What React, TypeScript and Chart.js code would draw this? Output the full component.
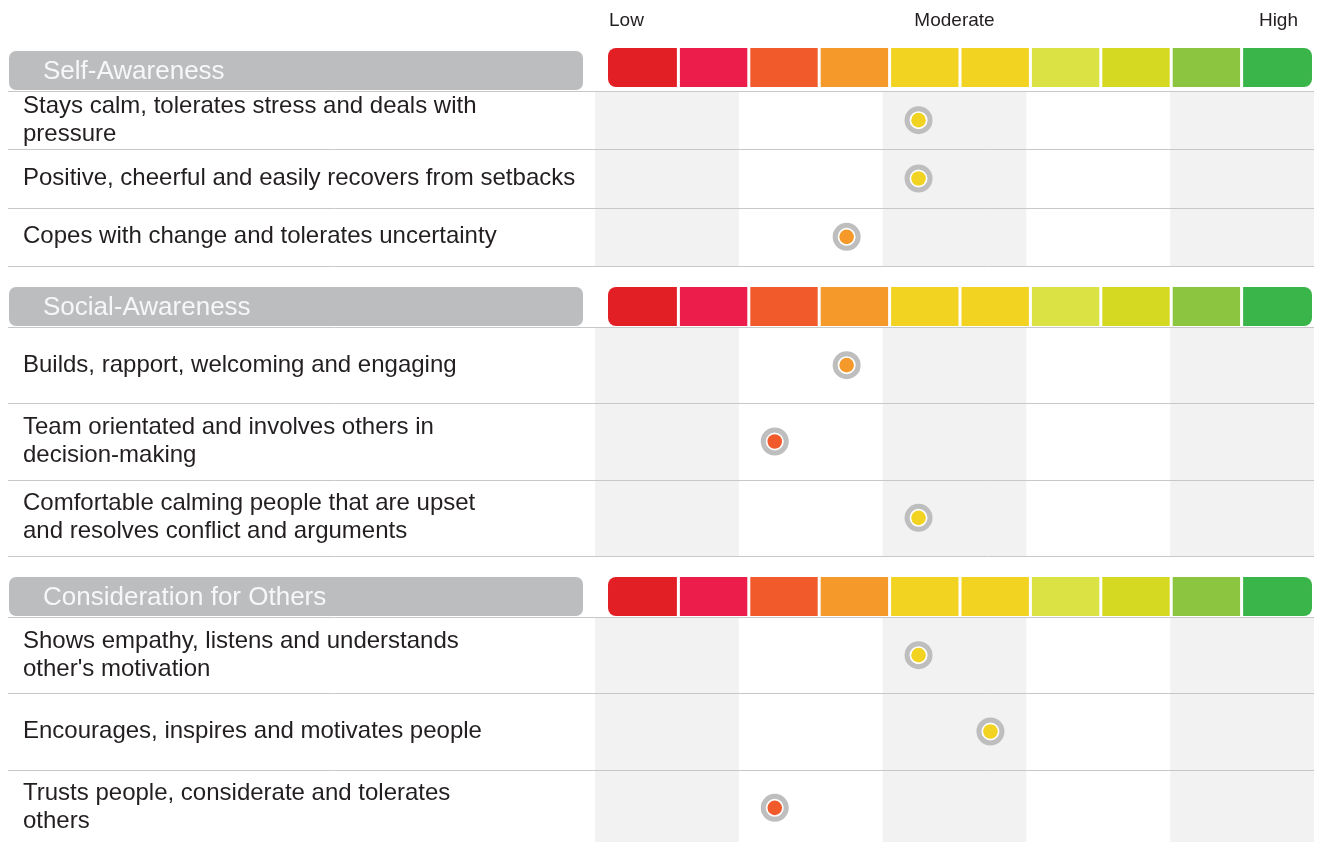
import React, { useEffect, useRef } from 'react';
import { Chart, registerables } from 'chart.js';

Chart.register(...registerables);

const FONT = '"Liberation Sans", Arial, Helvetica, sans-serif';

// ---- data ----
const scaleLabels = ['Low', 'Moderate', 'High'];
const scaleLabelValues = [0, 5, 10];
const segmentColors = [
  '#e31f26', '#ec1c4b', '#f15a2b', '#f4992a', '#f2d321',
  '#f2d321', '#dae343', '#d6d922', '#8cc540', '#3ab54a',
];

const sectionTitles = ['Self-Awareness', 'Social-Awareness', 'Consideration for Others'];

const selfAwarenessItems = [
  ['Stays calm, tolerates stress and deals with', 'pressure'],
  ['Positive, cheerful and easily recovers from setbacks'],
  ['Copes with change and tolerates uncertainty'],
];
const selfAwarenessScores = [4.5, 4.5, 3.5];

const socialAwarenessItems = [
  ['Builds, rapport, welcoming and engaging'],
  ['Team orientated and involves others in', 'decision-making'],
  ['Comfortable calming people that are upset', 'and resolves conflict and arguments'],
];
const socialAwarenessScores = [3.5, 2.5, 4.5];

const considerationItems = [
  ['Shows empathy, listens and understands', "other's motivation"],
  ['Encourages, inspires and motivates people'],
  ['Trusts people, considerate and tolerates', 'others'],
];
const considerationScores = [4.5, 5.5, 2.5];

// ---- drawing helpers ----
function roundRectPath(ctx: CanvasRenderingContext2D, x: number, y: number, w: number, h: number, r: number[]) {
  const [tl, tr, br, bl] = r;
  ctx.beginPath();
  ctx.moveTo(x + tl, y);
  ctx.lineTo(x + w - tr, y);
  if (tr) ctx.arcTo(x + w, y, x + w, y + tr, tr); else ctx.lineTo(x + w, y);
  ctx.lineTo(x + w, y + h - br);
  if (br) ctx.arcTo(x + w, y + h, x + w - br, y + h, br); else ctx.lineTo(x + w, y + h);
  ctx.lineTo(x + bl, y + h);
  if (bl) ctx.arcTo(x, y + h, x, y + h - bl, bl); else ctx.lineTo(x, y + h);
  ctx.lineTo(x, y + tl);
  if (tl) ctx.arcTo(x, y, x + tl, y, tl); else ctx.lineTo(x, y);
  ctx.closePath();
}

const sectionPlugin = {
  id: 'sectionDecor',
  beforeDatasetsDraw(chart: any, _args: any, opts: any) {
    const { ctx, chartArea } = chart;
    const x = chart.scales.x;
    const y = chart.scales.y;
    ctx.save();

    // alternating column bands
    ctx.fillStyle = '#f2f2f2';
    for (let v = 0; v < 10; v += 4) {
      const l = x.getPixelForValue(v);
      const r = x.getPixelForValue(v + 2);
      ctx.fillRect(l, chartArea.top, r - l, chartArea.bottom - chartArea.top);
    }

    // row separators
    const n = y.getLabels().length;
    const bounds = [chartArea.top];
    for (let i = 0; i < n - 1; i++) {
      bounds.push((y.getPixelForValue(i) + y.getPixelForValue(i + 1)) / 2);
    }
    bounds.push(chartArea.bottom);
    ctx.strokeStyle = '#c8c8c8';
    ctx.lineWidth = 1;
    bounds.forEach((b) => {
      const yy = Math.round(b) + 0.5;
      ctx.beginPath();
      ctx.moveTo(8, yy);
      ctx.lineTo(chartArea.right, yy);
      ctx.stroke();
    });

    // header bar
    const hTop = chartArea.top - 40;
    const hH = 39;
    ctx.fillStyle = '#bcbdbf';
    roundRectPath(ctx, 9, hTop, 574, hH, [7, 7, 7, 7]);
    ctx.fill();
    ctx.fillStyle = '#f7f7f7';
    ctx.font = `26px ${FONT}`;
    ctx.textAlign = 'left';
    ctx.textBaseline = 'alphabetic';
    ctx.fillText(opts.title, 43, hTop + 28);

    // colour scale segments
    const sTop = hTop + (opts.segShift || 0);
    const sL = x.getPixelForValue(0) + 13;
    const sR = x.getPixelForValue(10) - 2;
    const w = (sR - sL) / segmentColors.length;
    segmentColors.forEach((c, i) => {
      const left = sL + i * w + (i > 0 ? 1.5 : 0);
      const right = sL + (i + 1) * w - (i < segmentColors.length - 1 ? 1.5 : 0);
      const rad = i === 0 ? [8, 0, 0, 8] : i === segmentColors.length - 1 ? [0, 8, 8, 0] : [0, 0, 0, 0];
      ctx.fillStyle = c;
      roundRectPath(ctx, left, sTop, right - left, hH, rad);
      ctx.fill();
    });

    // Low / Moderate / High labels
    if (opts.showScale) {
      ctx.fillStyle = '#231f20';
      ctx.font = `19px ${FONT}`;
      ctx.textBaseline = 'alphabetic';
      scaleLabels.forEach((t, i) => {
        const v = scaleLabelValues[i];
        const px = x.getPixelForValue(v);
        if (i === 0) { ctx.textAlign = 'left'; ctx.fillText(t, px + 14, 26); }
        else if (i === scaleLabels.length - 1) { ctx.textAlign = 'right'; ctx.fillText(t, px - 16, 26); }
        else { ctx.textAlign = 'center'; ctx.fillText(t, px, 26); }
      });
    }
    ctx.restore();
  },
};

type SectionProps = {
  title: string;
  items: string[][];
  scores: number[];
  height: number;
  padTop: number;
  segShift: number;
  showScale: boolean;
};

function SectionChart({ title, items, scores, height, padTop, segShift, showScale }: SectionProps) {
  const ref = useRef<HTMLCanvasElement>(null);
  useEffect(() => {
    const keys = items.map((l) => l.join(' '));
    const corePoints = scores.map((s, i) => ({ x: s, y: keys[i] }));
    const ringPoints = scores.map((s, i) => ({ x: s, y: keys[i] }));
    const chart = new Chart(ref.current as HTMLCanvasElement, {
      type: 'scatter',
      data: {
        datasets: [
          {
            // coloured centre (drawn on top)
            data: corePoints,
            pointRadius: 7.3,
            pointHoverRadius: 7.3,
            pointBorderWidth: 0,
            pointHoverBorderWidth: 0,
            pointBackgroundColor: scores.map((s) => segmentColors[Math.floor(s)]),
          },
          {
            // grey ring with white gap
            data: ringPoints,
            pointRadius: 11.5,
            pointHoverRadius: 11.5,
            pointBorderWidth: 5,
            pointHoverBorderWidth: 5,
            pointBorderColor: '#bebebe',
            pointBackgroundColor: '#ffffff',
          },
        ],
      } as any,
      options: {
        responsive: false,
        animation: false,
        events: [],
        layout: { autoPadding: false, padding: { top: padTop, bottom: 11, left: 23, right: 3 } },
        plugins: {
          legend: { display: false },
          tooltip: { enabled: false },
          sectionDecor: { title, showScale, segShift },
        } as any,
        scales: {
          x: { type: 'linear', min: 0, max: 10, display: false },
          y: {
            type: 'category',
            labels: keys,
            offset: true,
            position: 'left',
            grid: { display: false },
            border: { display: false },
            ticks: {
              autoSkip: false,
              crossAlign: 'far',
              padding: 0,
              color: '#231f20',
              font: { family: FONT, size: 24, lineHeight: '28px' } as any,
              callback: (_v: any, i: number) => items[i],
            },
            afterFit: (s: any) => {
              s.width = 572;
              s.paddingTop = 0;
              s.paddingBottom = 0;
            },
          } as any,
        },
      },
      plugins: [sectionPlugin],
    });
    return () => chart.destroy();
  }, []);
  return <canvas ref={ref} width={1317} height={height} style={{ display: 'block' }} />;
}

export default function App() {
  useEffect(() => {
    document.body.style.margin = '0';
    document.body.style.overflow = 'hidden';
  }, []);
  return (
    <div style={{ width: 1317, height: 842, overflow: 'hidden', background: '#ffffff' }}>
      <SectionChart title={sectionTitles[0]} items={selfAwarenessItems} scores={selfAwarenessScores}
        height={277} padTop={91} segShift={-3} showScale={true} />
      <SectionChart title={sectionTitles[1]} items={socialAwarenessItems} scores={socialAwarenessScores}
        height={290} padTop={50} segShift={0} showScale={false} />
      <SectionChart title={sectionTitles[2]} items={considerationItems} scores={considerationScores}
        height={290} padTop={50} segShift={0} showScale={false} />
    </div>
  );
}
